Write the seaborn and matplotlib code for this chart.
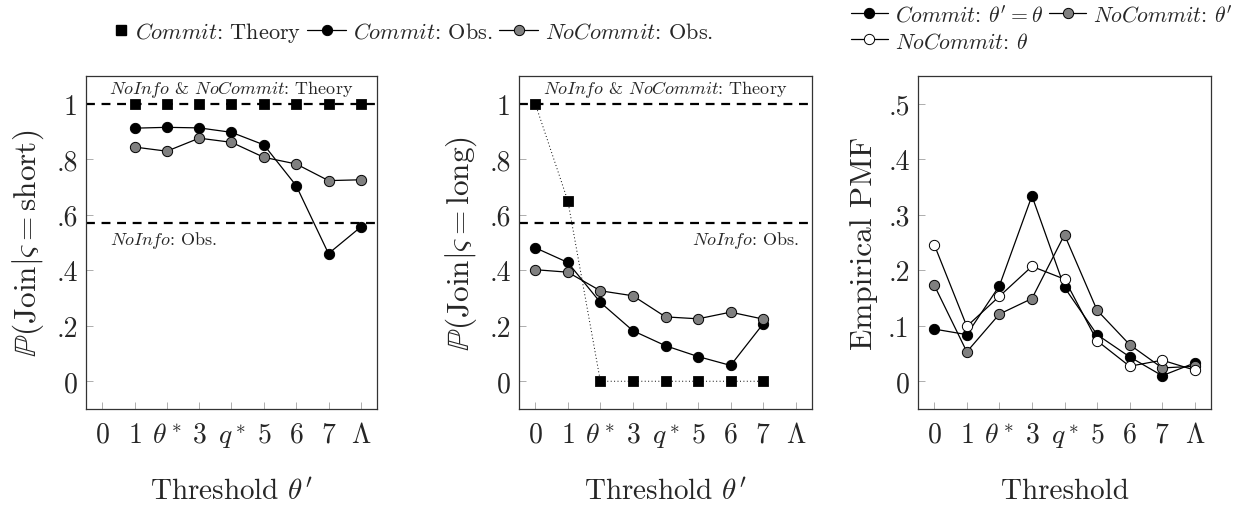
import numpy as np
import pandas as pd
import matplotlib
matplotlib.use("Agg")
import matplotlib.pyplot as plt
from matplotlib.lines import Line2D
from matplotlib.legend_handler import HandlerLine2D
import seaborn as sns

# ---------------- data ----------------
x_labels = ["$0$", "$1$", r"$\theta^*$", "$3$", "$q^*$", "$5$", "$6$", "$7$", r"$\Lambda$"]

# Panel 1: P(Join | short)
p1_theory_x = [1, 2, 3, 4, 5, 6, 7, 8]
p1_theory = [1, 1, 1, 1, 1, 1, 1, 1]
p1_x = [1, 2, 3, 4, 5, 6, 7, 8]
p1_commit = [0.912, 0.915, 0.913, 0.897, 0.852, 0.705, 0.460, 0.556]
p1_nocommit = [0.844, 0.829, 0.876, 0.861, 0.807, 0.783, 0.723, 0.726]

# Panel 2: P(Join | long)
p2_theory_x = [0, 1, 2, 3, 4, 5, 6, 7]
p2_theory = [1.0, 0.65, 0, 0, 0, 0, 0, 0]
p2_x = [0, 1, 2, 3, 4, 5, 6, 7]
p2_commit = [0.481, 0.428, 0.284, 0.182, 0.128, 0.089, 0.057, 0.207]
p2_nocommit = [0.402, 0.393, 0.326, 0.308, 0.232, 0.225, 0.249, 0.224]

# reference lines
noinfo_nocommit_theory = 1.0
noinfo_obs = 0.571

# Panel 3: empirical PMF
p3_x = [0, 1, 2, 3, 4, 5, 6, 7, 8]
p3_commit = [0.094, 0.084, 0.172, 0.334, 0.169, 0.084, 0.044, 0.010, 0.033]
p3_nocommit_tp = [0.173, 0.053, 0.121, 0.149, 0.264, 0.128, 0.066, 0.024, 0.027]
p3_nocommit_t = [0.246, 0.099, 0.153, 0.207, 0.184, 0.073, 0.027, 0.038, 0.020]

# ---------------- style ----------------
sns.set_theme(style="white")
plt.rcParams["font.family"] = ["cmr10", "DejaVu Serif"]
plt.rcParams["mathtext.fontset"] = "cm"
plt.rcParams["axes.formatter.use_mathtext"] = True
plt.rcParams["axes.unicode_minus"] = False

W, H = 1255, 506
fig = plt.figure(figsize=(W / 100, H / 100), dpi=100)

def axbox(l, r, t=77, b=410):
    return [l / W, (H - b) / H, (r - l) / W, (b - t) / H]

ax1 = fig.add_axes(axbox(86, 377))
ax2 = fig.add_axes(axbox(519, 812))
ax3 = fig.add_axes(axbox(918, 1211))

MS = 7.4
LW = 0.9
GRAY = "#808080"
SQ = 50
TICKFS = 20
YLABFS = 22.5
XLABFS = 21
ANNFS = 13
LEGFS = 16

def obs_line(ax, x, y, fc, z=3):
    df = pd.DataFrame({"x": x, "y": y})
    sns.lineplot(data=df, x="x", y="y", ax=ax, color="black", lw=LW,
                 marker="o", markersize=MS, markerfacecolor=fc,
                 markeredgecolor="black", markeredgewidth=0.7,
                 sort=False, estimator=None, zorder=z)

def style_axes(ax, ylim, yticks, yticklabels, ylabel, xlabel):
    ax.set_xlim(-0.5, 8.5)
    ax.set_ylim(*ylim)
    ax.set_xticks(range(9))
    ax.set_xticklabels(x_labels)
    ax.set_yticks(yticks)
    ax.set_yticklabels(yticklabels)
    ax.tick_params(axis="both", direction="in", length=5, width=0.6,
                   color="#a0a0a0", labelsize=TICKFS, pad=6,
                   bottom=True, left=True, top=False, right=False)
    ax.tick_params(axis="x", pad=9)
    for s in ax.spines.values():
        s.set_color("#333333")
        s.set_linewidth(0.9)
    ax.set_ylabel(ylabel, fontsize=YLABFS, labelpad=7)
    ax.set_xlabel(xlabel, fontsize=XLABFS, labelpad=20)

theory_label = r"$\mathit{NoInfo}$ & $\mathit{NoCommit}$: Theory"
obs_label = r"$\mathit{NoInfo}$: Obs."

# Panel 1
ax1.axhline(noinfo_nocommit_theory, color="black", lw=1.6, ls=(0, (4, 3)), zorder=1)
ax1.axhline(noinfo_obs, color="black", lw=1.6, ls=(0, (4, 3)), zorder=1)
sns.scatterplot(x=p1_theory_x, y=p1_theory, ax=ax1, marker="s", s=SQ,
                color="black", edgecolor="black", zorder=4)
obs_line(ax1, p1_x, p1_commit, "black", 3)
obs_line(ax1, p1_x, p1_nocommit, GRAY, 3)
ax1.text(4.0, 1.055, theory_label, ha="center", va="center", fontsize=ANNFS)
ax1.text(0.25, 0.51, obs_label, ha="left", va="center", fontsize=ANNFS)
style_axes(ax1, (-0.1, 1.1), [0, 0.2, 0.4, 0.6, 0.8, 1.0],
           ["0", ".2", ".4", ".6", ".8", "1"],
           r"$\mathbb{P}(\mathrm{Join}|\varsigma = \mathrm{short})$",
           r"Threshold $\theta'$")

# Panel 2
ax2.axhline(noinfo_nocommit_theory, color="black", lw=1.6, ls=(0, (4, 3)), zorder=1)
ax2.axhline(noinfo_obs, color="black", lw=1.6, ls=(0, (4, 3)), zorder=1)
sns.lineplot(x=p2_theory_x, y=p2_theory, ax=ax2, color="black", lw=0.7,
             ls=(0, (1, 2.5)), sort=False, estimator=None, zorder=2)
sns.scatterplot(x=p2_theory_x, y=p2_theory, ax=ax2, marker="s", s=SQ,
                color="black", edgecolor="black", zorder=4)
obs_line(ax2, p2_x, p2_commit, "black", 3)
obs_line(ax2, p2_x, p2_nocommit, GRAY, 3)
ax2.text(4.0, 1.055, theory_label, ha="center", va="center", fontsize=ANNFS)
ax2.text(8.1, 0.51, obs_label, ha="right", va="center", fontsize=ANNFS)
style_axes(ax2, (-0.1, 1.1), [0, 0.2, 0.4, 0.6, 0.8, 1.0],
           ["0", ".2", ".4", ".6", ".8", "1"],
           r"$\mathbb{P}(\mathrm{Join}|\varsigma = \mathrm{long})$",
           r"Threshold $\theta'$")

# Panel 3
obs_line(ax3, p3_x, p3_commit, "black", 3)
obs_line(ax3, p3_x, p3_nocommit_tp, GRAY, 3)
obs_line(ax3, p3_x, p3_nocommit_t, "white", 3)
style_axes(ax3, (-0.05, 0.55), [0, 0.1, 0.2, 0.3, 0.4, 0.5],
           ["0", ".1", ".2", ".3", ".4", ".5"],
           "Empirical PMF", "Threshold")

# Legends
class RightMarker(HandlerLine2D):
    """Place the lone marker at the right end of the handle box."""
    def create_artists(self, legend, orig_handle, xdescent, ydescent,
                       width, height, fontsize, trans):
        arts = super().create_artists(legend, orig_handle, xdescent, ydescent,
                                      width, height, fontsize, trans)
        for a in arts:
            xd = np.asarray(a.get_xdata(), dtype=float)
            a.set_xdata(np.full_like(xd, width - xdescent - 5))
        return arts

def h_line(fc):
    return Line2D([], [], color="black", lw=LW, marker="o", markersize=MS,
                  markerfacecolor=fc, markeredgecolor="black", markeredgewidth=0.7)

h_sq = Line2D([], [], color="black", lw=0, marker="s", markersize=7)
fig.legend([h_sq, h_line("black"), h_line(GRAY)],
           [r"$\mathit{Commit}$: Theory", r"$\mathit{Commit}$: Obs.",
            r"$\mathit{NoCommit}$: Obs."],
           loc="center left", bbox_to_anchor=(0.071, 0.935), ncol=3,
           frameon=False, fontsize=LEGFS, handlelength=1.75,
           handletextpad=0.3, columnspacing=0.3, borderaxespad=0, borderpad=0,
           handler_map={h_sq: RightMarker(numpoints=1)})
fig.legend([h_line("black"), h_line("white"), h_line(GRAY)],
           [r"$\mathit{Commit}$: $\theta' = \theta$", r"$\mathit{NoCommit}$: $\theta$",
            r"$\mathit{NoCommit}$: $\theta'$"],
           loc="center left", bbox_to_anchor=(0.678, 0.944), ncol=2,
           frameon=False, fontsize=15.7, handlelength=1.7,
           handletextpad=0.3, columnspacing=0.3, labelspacing=0.27,
           borderaxespad=0, borderpad=0)

fig.savefig("out.png", dpi=100)
